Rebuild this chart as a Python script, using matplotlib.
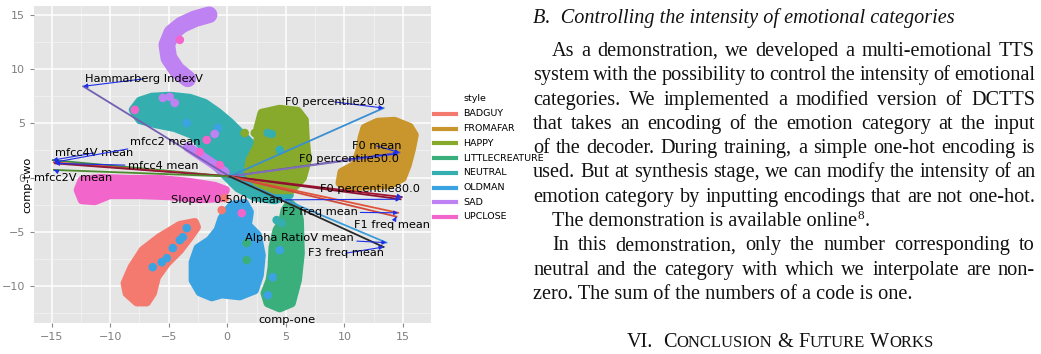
import numpy as np
import matplotlib
matplotlib.use('Agg')
import matplotlib.pyplot as plt
from matplotlib.lines import Line2D
from matplotlib.font_manager import FontProperties

# ---------------- data ----------------
styles = ['BADGUY', 'FROMAFAR', 'HAPPY', 'LITTLECREATURE', 'NEUTRAL', 'OLDMAN', 'SAD', 'UPCLOSE']
style_colors = ['#F47A70', '#C8962C', '#87AA2C', '#3AAF7C', '#34AEAF', '#3BA3E2', '#BE82F2', '#F266CC']

# cluster outlines (comp-one, comp-two)
neutral_x = [-8.06, -7.47, -6.44, -4.91, -3.20, -1.92, -0.81, 0.21, 1.07, 1.92, 2.60, 2.94, 3.63, 4.91, 5.33,
             4.05, 2.35, 0.90, 0.04, -1.07, -1.92, -2.94, -4.48, -6.19, -7.47]
neutral_y = [6.23, 7.06, 7.43, 7.52, 7.33, 6.87, 6.04, 5.12, 4.20, 3.27, 2.54, 1.61, 0.69, -0.23, -1.61,
             -2.08, -1.80, -0.97, -0.05, 1.15, 2.54, 3.92, 4.57, 4.94, 5.30]
happy_x = [2.94, 4.48, 6.02, 6.61, 6.70, 6.87, 6.44, 5.50, 4.05, 2.60, 1.75, 1.92, 2.60, 2.60]
happy_y = [5.95, 6.32, 6.13, 5.30, 3.46, 1.61, -0.05, -1.15, -1.15, -0.51, 0.51, 1.61, 3.00, 4.57]
fromafar_x = [11.73, 12.84, 14.29, 15.57, 16.00, 15.74, 15.40, 14.97, 13.87, 12.16, 10.45, 9.60, 9.77, 10.88, 11.31, 11.48]
fromafar_y = [4.57, 5.12, 5.21, 4.66, 3.92, 2.54, 1.15, -0.05, -0.69, -0.78, -0.88, -0.51, 0.51, 1.15, 2.54, 3.64]
littlecreature_x = [5.33, 6.02, 6.19, 6.27, 6.02, 5.50, 4.48, 3.46, 3.20, 3.63, 3.80, 3.88, 4.22, 4.74, 4.91]
littlecreature_y = [-2.35, -3.00, -3.92, -6.97, -9.46, -11.58, -12.04, -11.58, -10.66, -9.46, -8.26, -6.41, -4.84, -3.92, -3.00]
oldman_x = [0.38, 1.49, 1.92, 1.75, 2.60, 2.94, 2.77, 2.35, 1.07, -0.47, -1.32, -2.35, -2.94, -2.94, -2.52, -1.49, -0.81, -0.47]
oldman_y = [-2.54, -2.35, -3.18, -4.38, -5.30, -7.15, -8.99, -10.38, -10.93, -10.75, -11.02, -10.56, -9.46, -7.80, -6.50, -5.77, -4.84, -3.74]
badguy_x = [-2.77, -4.05, -5.76, -7.21, -8.15, -8.75, -8.58, -7.72, -6.87, -6.36, -6.02, -5.16, -4.05, -3.20, -2.60]
badguy_y = [-4.11, -4.38, -5.49, -6.69, -8.26, -9.73, -10.66, -11.49, -11.49, -10.66, -9.18, -7.89, -6.69, -5.49, -4.57]
upclose_x = [-12.41, -10.88, -8.32, -5.76, -3.20, -1.07, -0.13, -0.47, -2.35, -4.91, -7.47, -10.03, -11.31, -12.41, -12.76]
upclose_y = [-0.23, -0.05, -0.14, -0.14, -0.42, -0.78, -1.15, -1.89, -1.98, -1.71, -1.61, -1.61, -2.17, -2.08, -1.15]
sad_arc_x = [-1.55, -2.77, -3.88, -4.74, -5.16, -4.99, -4.31, -3.37]
sad_arc_y = [14.99, 14.62, 14.07, 13.33, 12.22, 11.02, 9.92, 9.09]
sad_arm_x = [-3.37, -2.35, -1.32, -0.21]
sad_arm_y = [2.81, 2.08, 1.34, 0.51]

# scattered single points: (x, y, style index)
dots_x = [-4.05, -7.89, -5.50, -4.91, -4.48, -3.46, -0.81, -1.07, -1.75, -2.35, -0.64,
          1.49, 2.35, 2.60, 3.46, 3.80, 4.48,
          -6.36, -5.59, -5.16, -4.65, -4.05, -3.79, -3.46,
          3.88, 3.46, 4.48, 4.22, 4.65, 1.24, -0.21, -0.47, 1.66, 1.66]
dots_y = [12.68, 6.23, 7.33, 7.43, 6.87, 5.03, 4.57, 4.01, 3.46, 2.35, 1.15,
          4.10, 4.10, 4.38, 4.10, 4.01, 2.54,
          -8.26, -7.80, -7.43, -6.50, -5.77, -5.49, -4.66,
          -9.18, -10.84, -6.69, -3.92, -4.20, -3.28, -1.89, -3.00, -6.04, -7.61]
dots_s = [7, 7, 6, 6, 6, 5, 5, 6, 7, 7, 7,
          2, 2, 2, 4, 4, 4,
          5, 5, 5, 5, 5, 5, 5,
          5, 5, 5, 4, 4, 7, 0, 0, 3, 3]

# loading vectors
origin = (0.2, 0.1)
vec_names = ['Hammarberg IndexV', 'mfcc4V mean', 'mfcc2 mean', 'mfcc4 mean', 'mfcc2V mean',
             'F0 percentile20.0', 'F0 mean', 'F0 percentile50.0', 'F0 percentile80.0',
             'SlopeV 0-500 mean', 'F2 freq mean', 'F1 freq mean', 'Alpha RatioV mean', 'F3 freq mean']
vec_x = [-12.3, -14.9, -14.8, -14.7, -14.8, 13.35, 14.7, 14.6, 14.9, 14.8, 14.6, 14.45, 13.6, 13.35]
vec_y = [8.4, 1.6, 1.4, 1.3, 0.7, 6.4, 2.3, 2.2, -1.8, -2.0, -3.25, -3.6, -6.0, -6.4]
vec_colors = ['#7360B2', '#3F8F3A', '#D9403A', '#8E1A3A', '#4E8A2E', '#3A8FD2', '#6B50A8', '#8070BC',
              '#A0122E', '#8A1030', '#E0553A', '#D24A3A', '#3C9CD8', '#2A2A2A']
lab_x = [-7.12, -11.39, -5.25, -5.50, -13.18, 9.17, 12.76, 10.37, 12.16, -0.04, 7.89, 14.04, 6.19, 10.11]
lab_y = [9.09, 2.26, 3.27, 1.06, -0.05, 6.96, 2.91, 1.71, -1.06, -2.08, -3.18, -4.38, -5.58, -6.97]

x_ticks = [-15, -10, -5, 0, 5, 10, 15]
y_ticks = [-10, -5, 0, 5, 10, 15]

# ---------------- figure ----------------
W, H = 1041, 354
fig = plt.figure(figsize=(W / 100, H / 100), dpi=100)
fig.patch.set_facecolor('white')

ax = fig.add_axes([34 / W, 1 - 323 / H, (431 - 34) / W, (323 - 6) / H])
ax.set_facecolor('#E5E5E5')
ax.set_xticks(x_ticks)
ax.set_yticks(y_ticks)
ax.set_xticks([-12.5, -7.5, -2.5, 2.5, 7.5, 12.5], minor=True)
ax.set_yticks([-12.5, -7.5, -2.5, 2.5, 7.5, 12.5], minor=True)
ax.set_xlim(-16.5, 17.4)
ax.set_ylim(-13.4, 15.8)
ax.grid(which='major', color='white', lw=1.1)
ax.grid(which='minor', color='#F4F4F4', lw=0.5)
ax.set_axisbelow(True)
for s in ax.spines.values():
    s.set_visible(False)
ax.tick_params(which='major', colors='#8A8A8A', labelsize=8, length=3, width=0.8, labelcolor='#7F7F7F')
ax.tick_params(which='minor', length=0)

col = dict(zip(styles, style_colors))

def blob(xs, ys, c, z=2):
    ax.fill(xs, ys, color=c, lw=6, ec=c, joinstyle='round', zorder=z)

blob(neutral_x, neutral_y, col['NEUTRAL'])
ax.plot(sad_arm_x, sad_arm_y, color=col['SAD'], lw=7, solid_capstyle='round', solid_joinstyle='round', zorder=2.1)
blob(upclose_x, upclose_y, col['UPCLOSE'], 2.2)
blob(happy_x, happy_y, col['HAPPY'], 2.3)
blob(fromafar_x, fromafar_y, col['FROMAFAR'], 2.3)
blob(badguy_x, badguy_y, col['BADGUY'], 2.3)
blob(oldman_x, oldman_y, col['OLDMAN'], 2.3)
blob(littlecreature_x, littlecreature_y, col['LITTLECREATURE'], 2.3)
ax.plot(sad_arc_x, sad_arc_y, color=col['SAD'], lw=12, solid_capstyle='round', solid_joinstyle='round', zorder=2.3)
ax.scatter(dots_x, dots_y, s=38, c=[style_colors[i] for i in dots_s], lw=0, zorder=2.5)

for vx, vy, c in zip(vec_x, vec_y, vec_colors):
    ax.plot([origin[0], vx], [origin[1], vy], color=c, lw=1.3, zorder=3)

for name, vx, vy, lx, ly in zip(vec_names, vec_x, vec_y, lab_x, lab_y):
    ax.annotate(name, xy=(vx, vy), xytext=(lx, ly), ha='center', va='center', fontsize=8.2,
                color='black', zorder=4,
                arrowprops=dict(arrowstyle='-|>', color='#1F2FE8', lw=0.8, mutation_scale=6,
                                shrinkA=0, shrinkB=0))

def px(x, y):
    return x / W, 1 - y / H

fig.text(*px(27, 185), 'comp-two', rotation=90, ha='center', va='center', fontsize=8.2)
fig.text(*px(287, 320), 'comp-one', ha='center', va='center', fontsize=8.2)

# legend
fig.text(*px(463, 99), 'style', ha='left', va='center', fontsize=6.8)
for i, (s, c) in enumerate(zip(styles, style_colors)):
    y = 114 + 14.7 * i
    fig.add_artist(Line2D([434 / W, 456 / W], [1 - y / H, 1 - y / H], color=c, lw=3))
    fig.text(*px(463, y), s, ha='left', va='center', fontsize=6.8)

# ---------------- text column ----------------
fig.canvas.draw()
rend = fig.canvas.get_renderer()
fp = FontProperties(family='Liberation Serif', size=14.6)
fpi = FontProperties(family='Liberation Serif', style='italic', size=14.6)
fps = FontProperties(family='Liberation Serif', size=12.0)
fpsup = FontProperties(family='Liberation Serif', size=9.5)
tcol = '#111111'

def tw(s, f):
    return rend.get_text_width_height_descent(s, f, ismath=False)[0]

def put(x, base, s, f):
    fig.text(x / W, 1 - base / H, s, fontproperties=f, ha='left', va='baseline', color=tcol)

LEFT, RIGHT, INDENT = 533, 1035, 552

def line(s, base, indent=False, justify=True, f=fp):
    x0 = INDENT if indent else LEFT
    words = s.split(' ')
    if not justify or len(words) < 2:
        put(x0, base, s, f)
        return x0 + tw(s, f)
    widths = [tw(w, f) for w in words]
    gap = (RIGHT - x0 - sum(widths)) / (len(words) - 1)
    x = x0
    for w, wd in zip(words, widths):
        put(x, base, w, f)
        x += wd + gap
    return RIGHT

put(LEFT, 23, 'B.  Controlling the intensity of emotional categories', fpi)

lines = [
    ('As a demonstration, we developed a multi-emotional TTS', True, True),
    ('system with the possibility to control the intensity of emotional', False, True),
    ('categories. We implemented a modified version of DCTTS', False, True),
    ('that takes an encoding of the emotion category at the input', False, True),
    ('of the decoder. During training, a simple one-hot encoding is', False, True),
    ('used. But at synthesis stage, we can modify the intensity of an', False, True),
    ('emotion category by inputting encodings that are not one-hot.', False, True),
    ('The demonstration is available online', True, False),
    ('In this demonstration, only the number corresponding to', True, True),
    ('neutral and the category with which we interpolate are non-', False, True),
    ('zero. The sum of the numbers of a code is one.', False, False),
]
for k, (s, ind, just) in enumerate(lines):
    base = 56 + 24.3 * k
    xe = line(s, base, ind, just)
    if s.endswith('online'):
        put(xe + 0.5, base - 7, '8', fpsup)
        put(xe + 0.5 + tw('8', fpsup) + 0.5, base, '.', fp)

# small caps heading
pieces = [('VI.', fp), (' ', fp), ('C', fp), ('ONCLUSION', fps), (' ', fp), ('&', fp), (' ', fp),
          ('F', fp), ('UTURE', fps), (' ', fp), ('W', fp), ('ORKS', fps)]
space_w = tw('a a', fp) - tw('aa', fp)
total = sum(space_w if p == ' ' else tw(p, f) for p, f in pieces) + space_w
x = 780 - total / 2
for p, f in pieces:
    if p == ' ':
        x += space_w
        continue
    put(x, 347, p, f)
    x += tw(p, f)
    if p == 'VI.':
        x += space_w

fig.savefig('out.png', dpi=100, facecolor='white')
